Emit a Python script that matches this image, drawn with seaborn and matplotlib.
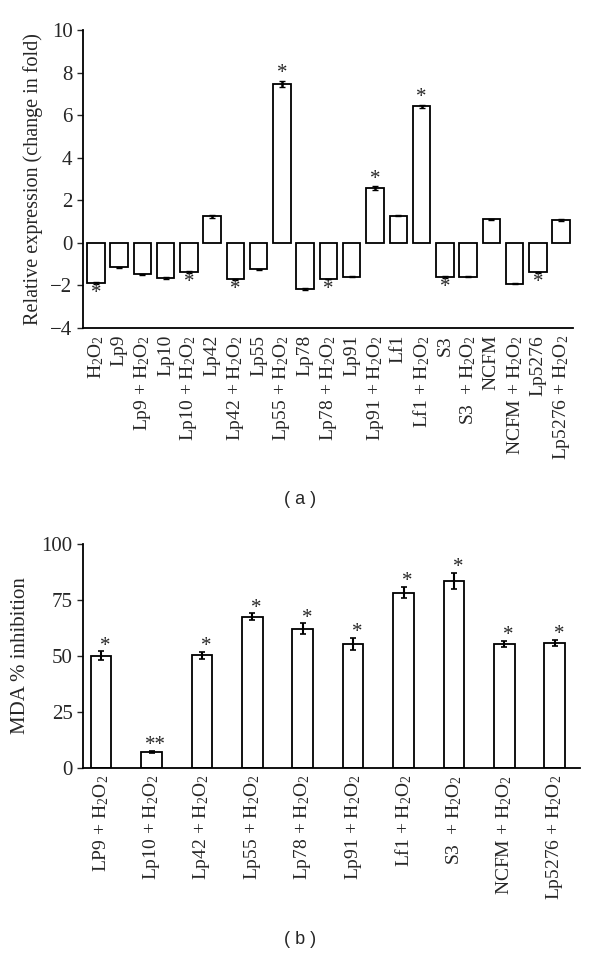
import pandas as pd
import matplotlib
matplotlib.use("Agg")
import matplotlib.pyplot as plt
import seaborn as sns

# panel (a): relative expression
cats_a = ["H2O2", "Lp9", "Lp9+H2O2", "Lp10", "Lp10+H2O2", "Lp42", "Lp42+H2O2",
          "Lp55", "Lp55+H2O2", "Lp78", "Lp78+H2O2", "Lp91", "Lp91+H2O2", "Lf1",
          "Lf1+H2O2", "S3", "S3+H2O2", "NCFM", "NCFM+H2O2", "Lp5276", "Lp5276+H2O2"]
labels_a = [r"$\mathregular{H_2O_2}$", "Lp9", r"Lp9 + $\mathregular{H_2O_2}$", "Lp10",
            r"Lp10 + $\mathregular{H_2O_2}$", "Lp42", r"Lp42 + $\mathregular{H_2O_2}$",
            "Lp55", r"Lp55 + $\mathregular{H_2O_2}$", "Lp78", r"Lp78 + $\mathregular{H_2O_2}$",
            "Lp91", r"Lp91 + $\mathregular{H_2O_2}$", "Lf1", r"Lf1 + $\mathregular{H_2O_2}$",
            "S3", r"S3  + $\mathregular{H_2O_2}$", "NCFM", r"NCFM + $\mathregular{H_2O_2}$",
            "Lp5276", r"Lp5276 + $\mathregular{H_2O_2}$"]
vals_a = [-1.88, -1.15, -1.47, -1.65, -1.36, 1.25, -1.72, -1.25, 7.45, -2.17, -1.7,
          -1.6, 2.57, 1.28, 6.42, -1.62, -1.6, 1.1, -1.92, -1.38, 1.08]
err_a = [0.04, 0.03, 0.02, 0.04, 0.04, 0.08, 0.02, 0.03, 0.15, 0.04, 0.02,
         0.02, 0.08, 0.04, 0.07, 0.04, 0.02, 0.03, 0.02, 0.02, 0.04]
stars_a = [0, 4, 6, 8, 10, 12, 14, 15, 19]

# panel (b): MDA inhibition
cats_b = ["LP9+H2O2", "Lp10+H2O2", "Lp42+H2O2", "Lp55+H2O2", "Lp78+H2O2",
          "Lp91+H2O2", "Lf1+H2O2", "S3+H2O2", "NCFM+H2O2", "Lp5276+H2O2"]
labels_b = [r"LP9 + $\mathregular{H_2O_2}$", r"Lp10 + $\mathregular{H_2O_2}$",
            r"Lp42 + $\mathregular{H_2O_2}$", r"Lp55 + $\mathregular{H_2O_2}$",
            r"Lp78 + $\mathregular{H_2O_2}$", r"Lp91 + $\mathregular{H_2O_2}$",
            r"Lf1 + $\mathregular{H_2O_2}$", r"S3  + $\mathregular{H_2O_2}$",
            r"NCFM + $\mathregular{H_2O_2}$", r"Lp5276 + $\mathregular{H_2O_2}$"]
vals_b = [50.0, 7.0, 50.2, 67.5, 62.1, 55.4, 78.3, 83.4, 55.3, 55.7]
err_b = [2.0, 0.5, 1.5, 1.5, 2.5, 2.6, 2.6, 3.6, 1.5, 1.5]
stars_b = ["*", "**", "*", "*", "*", "*", "*", "*", "*", "*"]

sns.set_style("white")
plt.rcParams["font.family"] = ["Liberation Serif", "DejaVu Serif"]
plt.rcParams["mathtext.fontset"] = "custom"
plt.rcParams["mathtext.rm"] = "Liberation Serif"

fig = plt.figure(figsize=(6, 9.56), dpi=100)

# ---- (a) ----
ax1 = fig.add_axes([0.1383, 0.6569, 0.8172, 0.3117])
df_a = pd.DataFrame({"cat": cats_a, "val": vals_a})
sns.barplot(data=df_a, x="cat", y="val", order=cats_a, color="white",
            edgecolor="black", linewidth=1.3, width=0.75, errorbar=None, ax=ax1)
ax1.errorbar(range(len(cats_a)), vals_a, yerr=err_a, fmt="none", ecolor="black",
             elinewidth=1.8, capsize=2, capthick=1)
for i in stars_a:
    v = vals_a[i]
    if v >= 0:
        y = v + err_a[i] + 0.35
    else:
        y = v - err_a[i] - 0.45
    ax1.text(i, y, "*", ha="center", va="center", fontsize=15)
ax1.set_ylim(-4, 10)
ax1.set_yticks([-4, -2, 0, 2, 4, 6, 8, 10])
ax1.set_yticklabels(["\u22124", "\u22122", "0", "2", "4", "6", "8", "10"])
ax1.set_xlim(-0.55, 20.52)
ax1.set_xticks(range(len(cats_a)))
ax1.set_xticklabels(labels_a, rotation=90, fontsize=14)
ax1.set_xlabel("")
ax1.set_ylabel("Relative expression (change in fold)", fontsize=14.5, labelpad=5)
ax1.tick_params(axis="y", direction="out", length=4, width=1, labelsize=15, left=True)
ax1.tick_params(axis="x", length=0, pad=5)
sns.despine(ax=ax1)
for s in ["left", "bottom"]:
    ax1.spines[s].set_linewidth(1.3)
    ax1.spines[s].set_color("black")

# ---- (b) ----
ax2 = fig.add_axes([0.1383, 0.197, 0.8283, 0.234])
df_b = pd.DataFrame({"cat": cats_b, "val": vals_b})
sns.barplot(data=df_b, x="cat", y="val", order=cats_b, color="white",
            edgecolor="black", linewidth=1.3, width=0.41, errorbar=None, ax=ax2)
ax2.errorbar(range(len(cats_b)), vals_b, yerr=err_b, fmt="none", ecolor="black",
             elinewidth=1.5, capsize=2.5, capthick=1.2)
for i, s in enumerate(stars_b):
    ax2.text(i + 0.08, vals_b[i] + err_b[i] + 2.3, s, ha="center", va="center", fontsize=15)
ax2.set_ylim(0, 100)
ax2.set_yticks([0, 25, 50, 75, 100])
ax2.set_xlim(-0.36, 9.5)
ax2.set_xticks(range(len(cats_b)))
ax2.set_xticklabels(labels_b, rotation=90, fontsize=14)
ax2.set_xlabel("")
ax2.set_ylabel("MDA % inhibition", fontsize=15, labelpad=8)
ax2.tick_params(axis="y", direction="out", length=4, width=1, labelsize=15, left=True)
ax2.tick_params(axis="x", length=0, pad=5)
sns.despine(ax=ax2)
for s in ["left", "bottom"]:
    ax2.spines[s].set_linewidth(1.3)
    ax2.spines[s].set_color("black")

fig.text(0.5, 1 - 500 / 956, "( a )", ha="center", va="center", fontsize=13,
         family=["Liberation Sans", "DejaVu Sans"])
fig.text(0.5, 1 - 940 / 956, "( b )", ha="center", va="center", fontsize=13,
         family=["Liberation Sans", "DejaVu Sans"])

fig.savefig("out.png", dpi=100)
